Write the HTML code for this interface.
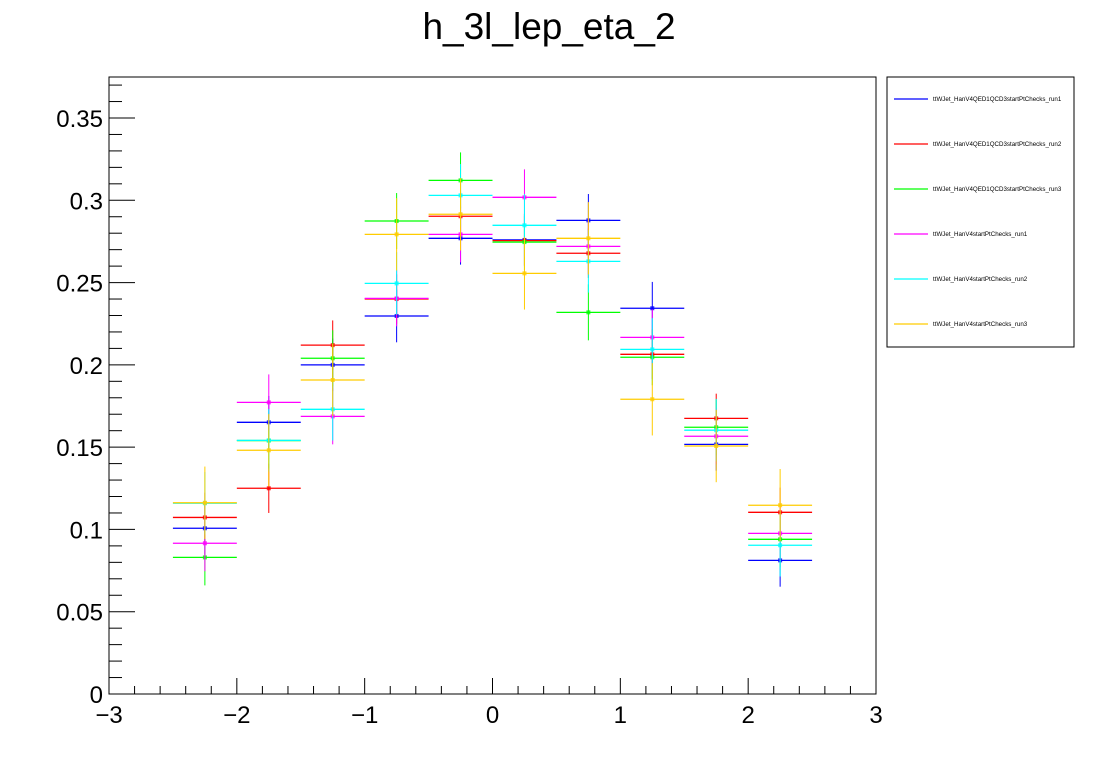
<!DOCTYPE html>
<html><head><meta charset="utf-8"><style>
body{margin:0;background:#fff;}
svg{display:block;font-family:"Liberation Sans",Arial,sans-serif;}
</style></head><body>
<svg id="chart" width="1096" height="772" xmlns="http://www.w3.org/2000/svg">
<text x="549" y="39" font-size="37" text-anchor="middle">h_3l_lep_eta_2</text>
<rect x="109" y="77" width="767" height="617" fill="none" stroke="#000" stroke-width="1"/>
<g id="marks"></g>
<g id="axes"></g>
<g id="legend">
<rect x="887" y="77" width="187" height="270" fill="#fff" stroke="#000" stroke-width="1"/>
</g>
</svg>
<script>
const binCenters=[-2.25,-1.75,-1.25,-0.75,-0.25,0.25,0.75,1.25,1.75,2.25];
const seriesNames=["ttWJet_HanV4QED1QCD3startPtChecks_run1","ttWJet_HanV4QED1QCD3startPtChecks_run2","ttWJet_HanV4QED1QCD3startPtChecks_run3","ttWJet_HanV4startPtChecks_run1","ttWJet_HanV4startPtChecks_run2","ttWJet_HanV4startPtChecks_run3"];
const seriesColors=["#0000ff","#ff0000","#00ff00","#ff00ff","#00ffff","#ffcc00"];
const run1=[0.1007,0.1651,0.200,0.2297,0.2769,0.2759,0.2878,0.2344,0.1517,0.0812];
const run2=[0.1073,0.1250,0.212,0.2400,0.2903,0.2755,0.2678,0.2064,0.1675,0.1104];
const run3=[0.0830,0.1540,0.204,0.2874,0.3121,0.2746,0.2319,0.2046,0.1621,0.0940];
const hRun1=[0.0916,0.1772,0.1687,0.2404,0.2793,0.3018,0.2720,0.2167,0.1566,0.0976];
const hRun2=[0.1159,0.1541,0.173,0.2495,0.3030,0.2848,0.2629,0.2094,0.1603,0.0904];
const hRun3=[0.1162,0.1481,0.1908,0.2793,0.2915,0.2556,0.2769,0.1791,0.1507,0.1147];
const seriesErr=[0.016,0.015,0.017,0.017,0.019,0.022];
const xTicks=[-3,-2,-1,0,1,2,3];
const yTicks=[0,0.05,0.1,0.15,0.2,0.25,0.3,0.35];
const allSeries=[run1,run2,run3,hRun1,hRun2,hRun3];
const binHalf=0.25;
const X0=109,X1=876,Y0=694,Y1=118;
const xs=v=>X0+(v+3)/6*(X1-X0);
const ys=v=>Y0-v/0.35*(Y0-Y1);
const NS="http://www.w3.org/2000/svg";
function mk(tag,attrs,parent){const e=document.createElementNS(NS,tag);for(const k in attrs)e.setAttribute(k,attrs[k]);parent.appendChild(e);return e;}
const marks=document.getElementById('marks');
allSeries.forEach((s,si)=>{
  const g=mk('g',{},marks);
  
  
  s.forEach((v,i)=>{
    const c=seriesColors[si],e=seriesErr[si];
    const h=mk('line',{x1:xs(binCenters[i]-binHalf),x2:xs(binCenters[i]+binHalf),y1:ys(v),y2:ys(v),stroke:c,'stroke-width':1.3},g);
    
    
    const vl=mk('line',{x1:xs(binCenters[i]),x2:xs(binCenters[i]),y1:ys(v-e),y2:ys(v+e),stroke:c,'stroke-width':1},g);
    
    
    const p=mk('rect',{x:xs(binCenters[i])-2,y:ys(v)-2,width:4,height:4,fill:c,opacity:0.8},g);
    
    
  });
});
const ax=document.getElementById('axes');
for(let k=0;k<=30;k++){
  const v=-3+k*0.2;const major=(k%5===0);
  const t=mk('line',{x1:xs(v),x2:xs(v),y1:Y0,y2:Y0-(major?16:8),stroke:'#000','stroke-width':1},ax);
  
  
}
xTicks.forEach(v=>{
  const t=mk('text',{x:xs(v),y:723,'font-size':24,'text-anchor':'middle'},ax);
  t.textContent=(v<0?'\u2212'+(-v):String(v));
  
  
});
for(let k=0;k<=37;k++){
  const v=k*0.01;const major=(k%5===0);
  const t=mk('line',{x1:X0,x2:X0+(major?26:13),y1:ys(v),y2:ys(v),stroke:'#000','stroke-width':1},ax);
  
  
}
yTicks.forEach(v=>{
  const t=mk('text',{x:103,y:ys(v)+9,'font-size':24,'text-anchor':'end'},ax);
  t.textContent=String(v);
  
  
});
const lg=document.getElementById('legend');
seriesNames.forEach((n,i)=>{
  const y=99+i*45;
  const g=mk('g',{},lg);
  
  
  mk('line',{x1:894,x2:928,y1:y,y2:y,stroke:seriesColors[i],'stroke-width':1.3},g);
  const t=mk('text',{x:933,y:y+2,'font-size':6.2},g);
  t.textContent=n;
});
</script>
</body></html>
